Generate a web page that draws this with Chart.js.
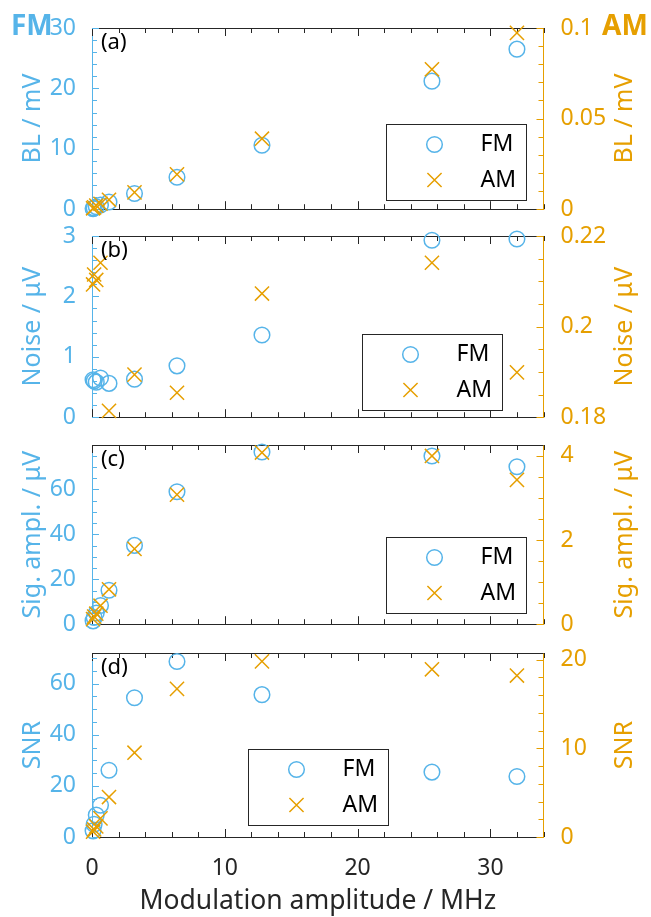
<!DOCTYPE html>
<html>
<head>
<meta charset="utf-8">
<script src="https://cdn.jsdelivr.net/npm/chart.js@4.4.1/dist/chart.umd.min.js"></script>
<style>
html, body { margin: 0; padding: 0; background: #fff; }
#wrap { position: relative; width: 651px; height: 917px; overflow: hidden; }
#wrap canvas { position: absolute; left: 0; }
</style>
</head>
<body>
<div id="wrap"></div>
<script>
// modulation amplitude (MHz)
const modAmp = [0.08, 0.16, 0.32, 0.64, 1.28, 3.2, 6.4, 12.8, 25.6, 32];

// (a) baseline, mV
const fmBL = [0.1, 0.2, 0.4, 0.7, 1.2, 2.6, 5.3, 10.6, 21.2, 26.5];
const amBL = [0.0005, 0.001, 0.002, 0.003, 0.0052, 0.0093, 0.0192, 0.0389, 0.0772, 0.0973];
// (b) noise, uV
const fmNoise = [0.62, 0.6, 0.58, 0.65, 0.56, 0.63, 0.85, 1.36, 2.93, 2.95];
const amNoise = [0.2093, 0.2115, 0.2103, 0.2141, 0.1814, 0.1894, 0.1854, 0.2073, 0.2141, 0.1899];
// (c) signal amplitude, uV
const fmSig = [1.5, 3, 5, 8.3, 15.1, 35.1, 59, 76.7, 74.9, 70.1];
const amSig = [0.12, 0.18, 0.25, 0.44, 0.83, 1.79, 3.08, 4.08, 4.0, 3.43];
// (d) SNR
const fmSNR = [2.4, 5, 8.6, 12.4, 26.1, 54.5, 68.7, 55.7, 25.4, 23.7];
const amSNR = [0.6, 0.85, 1.2, 2.1, 4.5, 9.5, 16.7, 19.8, 18.9, 18.2];

const seriesNames = ['FM', 'AM'];
const panelLabels = ['(a)', '(b)', '(c)', '(d)'];
const yTitles = ['BL / mV', 'Noise / μV', 'Sig. ampl. / μV', 'SNR'];
const xTitle = 'Modulation amplitude / MHz';

// left axis [min, max, major, minor], right axis the same
const leftRanges = [[0, 30, 10, 2], [0, 3, 1, 0.2], [0, 79.8, 20, 5], [0, 72, 20, 5]];
const rightRanges = [[0, 0.1, 0.05, 0.01], [0.18, 0.22, 0.02, 0.005], [0, 4.26, 2, 0.5], [0, 20.74, 10, 2]];
const xRange = [0, 34, 10, 2];

const fmData = [fmBL, fmNoise, fmSig, fmSNR];
const amData = [amBL, amNoise, amSig, amSNR];

const BLUE = '#56B4E9';
const ORANGE = '#E69F00';
const DARK = '#262626';
const FONT = '"Noto Sans", "Open Sans", sans-serif';

// panel placement: canvas top, chart area height, space below
const layoutInfo = [
  { top: 0, plot: 186, below: 18 },
  { top: 208, plot: 186, below: 18 },
  { top: 417, plot: 184, below: 18 },
  { top: 625, plot: 184, below: 80 }
];
const legendPos = [[0.651, 0.531], [0.597, 0.542], [0.651, 0.516], [0.346, 0.52]];

function onStep(v, step) {
  return Math.abs(v / step - Math.round(v / step)) < 1e-6;
}
function fmt(v) {
  return String(+v.toFixed(4));
}
function stepValues(min, max, step) {
  const out = [];
  const n0 = Math.ceil(min / step - 1e-6), n1 = Math.floor(max / step + 1e-6);
  for (let n = n0; n <= n1; n++) out.push(+(n * step).toFixed(6));
  return out;
}

function eachStep(scale, step, fn) {
  stepValues(scale.min, scale.max, step).forEach(v => fn(v, scale.getPixelForValue(v)));
}

const framePlugin = {
  id: 'frame',
  beforeDatasetsDraw(chart, args, o) {
    const { ctx, chartArea: a, scales } = chart;
    ctx.save();
    ctx.lineWidth = 1;
    // top border
    ctx.strokeStyle = DARK;
    ctx.beginPath();
    ctx.moveTo(a.left, Math.round(a.top) + 0.5);
    ctx.lineTo(a.right, Math.round(a.top) + 0.5);
    ctx.stroke();
    // x ticks, top and bottom, inward
    ctx.beginPath();
    eachStep(scales.x, xRange[3], (v, px) => {
      const len = onStep(v, xRange[2]) ? 8 : 5;
      const x = Math.round(px) + 0.5;
      ctx.moveTo(x, a.bottom); ctx.lineTo(x, a.bottom - len);
      ctx.moveTo(x, a.top); ctx.lineTo(x, a.top + len);
    });
    ctx.stroke();
    // left ticks
    const L = leftRanges[o.idx], R = rightRanges[o.idx];
    ctx.strokeStyle = BLUE;
    ctx.beginPath();
    eachStep(scales.y, L[3], (v, py) => {
      const len = onStep(v, L[2]) ? 7 : 5;
      const y = Math.round(py) + 0.5;
      ctx.moveTo(a.left, y); ctx.lineTo(a.left + len, y);
    });
    ctx.stroke();
    ctx.strokeStyle = ORANGE;
    ctx.beginPath();
    eachStep(scales.y1, R[3], (v, py) => {
      const len = onStep(v, R[2]) ? 7 : 5;
      const y = Math.round(py) + 0.5;
      ctx.moveTo(a.right, y); ctx.lineTo(a.right - len, y);
    });
    ctx.stroke();
    ctx.restore();
  },
  afterDatasetsDraw(chart, args, o) {
    const { ctx, chartArea: a } = chart;
    ctx.save();
    // panel label
    ctx.fillStyle = '#000';
    ctx.font = '22px ' + FONT;
    ctx.textAlign = 'left';
    ctx.textBaseline = 'alphabetic';
    ctx.fillText(panelLabels[o.idx], a.left + 9, a.top + 21);
    // right axis title, reading bottom to top
    ctx.save();
    ctx.translate(625, (a.top + a.bottom) / 2);
    ctx.rotate(-Math.PI / 2);
    ctx.fillStyle = ORANGE;
    ctx.font = '25px ' + FONT;
    ctx.textAlign = 'center';
    ctx.textBaseline = 'middle';
    ctx.fillText(yTitles[o.idx], 0, 0);
    ctx.restore();
    // legend
    const lx = Math.round(a.left + legendPos[o.idx][0] * a.width) + 0.5;
    const ly = Math.round(a.top + legendPos[o.idx][1] * a.height) + 0.5;
    ctx.fillStyle = '#fff';
    ctx.fillRect(lx, ly, 140, 76);
    ctx.strokeStyle = DARK;
    ctx.lineWidth = 1;
    ctx.strokeRect(lx, ly, 140, 76);
    const rows = [ly + 20, ly + 55.5];
    chart.data.datasets.forEach((ds, i) => {
      ctx.strokeStyle = ds.pointBorderColor;
      ctx.fillStyle = 'rgba(0,0,0,0)';
      ctx.lineWidth = ds.pointBorderWidth;
      Chart.helpers.drawPoint(ctx, {
        pointStyle: ds.pointStyle, radius: ds.pointRadius,
        borderWidth: ds.pointBorderWidth, rotation: 0
      }, lx + 48, rows[i]);
      ctx.fillStyle = '#000';
      ctx.font = '23px ' + FONT;
      ctx.textAlign = 'left';
      ctx.textBaseline = 'middle';
      ctx.fillText(ds.label, lx + 94, rows[i]);
    });
    // FM / AM header over the first panel
    if (o.idx === 0) {
      ctx.font = 'bold 28px ' + FONT;
      ctx.textBaseline = 'alphabetic';
      ctx.fillStyle = BLUE;
      ctx.fillText('FM', 11, 35);
      ctx.fillStyle = ORANGE;
      ctx.fillText('AM', 602, 35);
    }
    ctx.restore();
  }
};

function makeChart(idx) {
  const info = layoutInfo[idx];
  const last = idx === 3;
  const padTop = 28;
  const canvas = document.createElement('canvas');
  canvas.width = 651;
  canvas.height = padTop + info.plot + info.below;
  canvas.style.top = info.top + 'px';
  document.getElementById('wrap').appendChild(canvas);

  const L = leftRanges[idx], R = rightRanges[idx];
  const pts = arr => modAmp.map((x, i) => ({ x: x, y: arr[i] }));
  const setTicks = r => s => { s.ticks = stepValues(r[0], r[1], r[2]).map(v => ({ value: v })); };

  return new Chart(canvas.getContext('2d'), {
    type: 'scatter',
    data: {
      datasets: [
        {
          label: seriesNames[0], data: pts(fmData[idx]), yAxisID: 'y',
          pointStyle: 'circle', pointRadius: 7.8, pointHoverRadius: 7.8,
          pointBorderColor: BLUE, pointBackgroundColor: 'rgba(0,0,0,0)',
          pointBorderWidth: 1.5, showLine: false, clip: false, order: 1
        },
        {
          label: seriesNames[1], data: pts(amData[idx]), yAxisID: 'y1',
          pointStyle: 'crossRot', pointRadius: 10, pointHoverRadius: 10,
          pointBorderColor: ORANGE, pointBackgroundColor: ORANGE,
          pointBorderWidth: 1.5, showLine: false, clip: false, order: 0
        }
      ]
    },
    options: {
      responsive: false,
      animation: false,
      events: [],
      devicePixelRatio: 1,
      layout: {
        autoPadding: false,
        padding: { top: padTop, bottom: last ? 0 : info.below, left: 0, right: 0 }
      },
      plugins: {
        legend: { display: false },
        tooltip: { enabled: false },
        frame: { idx: idx }
      },
      scales: {
        x: {
          type: 'linear', position: 'bottom',
          min: xRange[0], max: xRange[1],
          grid: { display: false },
          border: { display: true, color: DARK, width: 1 },
          afterBuildTicks: setTicks(xRange),
          ticks: {
            display: last, autoSkip: false, maxRotation: 0,
            color: DARK, padding: 10, font: { family: FONT, size: 23 },
            callback: v => fmt(v)
          },
          title: {
            display: last, text: xTitle, color: DARK,
            font: { family: FONT, size: 26.5 }, padding: { top: 0, bottom: 0 }
          },
          afterFit: s => { s.height = last ? info.below : 0; }
        },
        y: {
          type: 'linear', position: 'left',
          min: L[0], max: L[1],
          grid: { display: false },
          border: { display: true, color: BLUE, width: 1 },
          afterBuildTicks: setTicks(L),
          ticks: {
            autoSkip: false, color: BLUE, padding: 8,
            font: { family: FONT, size: 23 },
            callback: v => fmt(v)
          },
          title: {
            display: true, text: yTitles[idx], color: BLUE,
            font: { family: FONT, size: 25 }, padding: { top: 18, bottom: 0 }
          },
          afterFit: s => { s.width = 92; }
        },
        y1: {
          type: 'linear', position: 'right',
          min: R[0], max: R[1],
          grid: { display: false },
          border: { display: true, color: ORANGE, width: 1 },
          afterBuildTicks: setTicks(R),
          ticks: {
            autoSkip: false, color: ORANGE, padding: 9,
            font: { family: FONT, size: 23 },
            callback: v => fmt(v)
          },
          title: { display: false },
          afterFit: s => { s.width = 107.5; }
        }
      }
    },
    plugins: [framePlugin]
  });
}

[0, 1, 2, 3].forEach(makeChart);
</script>
</body>
</html>
